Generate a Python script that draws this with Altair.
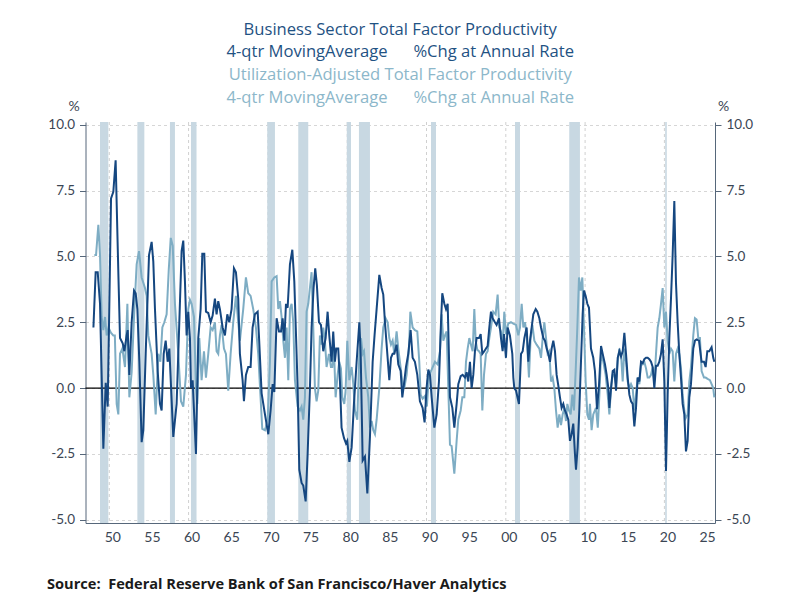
import pandas as pd
import altair as alt

# Business Sector TFP, 4-qtr moving average, %chg at annual rate
tfp_year = [1948.0, 1948.28, 1948.54, 1948.83, 1949.25, 1949.55, 1949.8, 1950.22, 1950.51, 1950.8,
            1951.14, 1951.35, 1951.69, 1951.9, 1952.19, 1952.32, 1952.53, 1952.82, 1953.12, 1953.33,
            1953.54, 1953.79, 1954.08, 1954.29, 1954.59, 1955.01, 1955.34, 1955.55, 1955.76, 1956.1,
            1956.39, 1956.6, 1956.86, 1957.11, 1957.36, 1957.57, 1958.07, 1958.49, 1958.83, 1959.12,
            1959.33, 1959.54, 1959.75, 1959.96, 1960.17, 1960.3, 1960.51, 1960.68, 1960.93, 1961.22,
            1961.52, 1961.73, 1961.98, 1962.19, 1962.48, 1962.78, 1963.03, 1963.32, 1963.53, 1963.74,
            1963.95, 1964.29, 1964.58, 1964.88, 1965.13, 1965.42, 1965.72, 1965.97, 1966.26, 1966.47,
            1966.81, 1966.98, 1967.23, 1967.52, 1967.82, 1968.07, 1968.36, 1968.71, 1968.87, 1969.21,
            1969.63, 1970.05, 1970.34, 1970.6, 1970.81, 1971.1, 1971.4, 1971.65, 1971.86, 1972.07,
            1972.28, 1972.49, 1972.78, 1973.08, 1973.33, 1973.62, 1973.75, 1973.96, 1974.25, 1974.46,
            1974.76, 1975.01, 1975.3, 1975.51, 1975.76, 1975.97, 1976.18, 1976.44, 1976.69, 1976.98,
            1977.28, 1977.53, 1977.74, 1978.03, 1978.24, 1978.45, 1978.62, 1978.87, 1979.08, 1979.29,
            1979.6, 1979.85, 1980.01, 1980.27, 1980.56, 1980.85, 1981.19, 1981.53, 1981.7, 1981.95,
            1982.24, 1982.54, 1982.87, 1983.21, 1983.46, 1983.71, 1984.05, 1984.34, 1984.55, 1984.76,
            1985.06, 1985.31, 1985.52, 1985.73, 1985.94, 1986.23, 1986.44, 1986.74, 1986.95, 1987.16,
            1987.41, 1987.7, 1988.0, 1988.25, 1988.54, 1988.84, 1989.17, 1989.51, 1989.76, 1990.01,
            1990.23, 1990.44, 1990.65, 1990.99, 1991.28, 1991.57, 1991.83, 1991.99, 1992.25, 1992.46,
            1992.67, 1992.96, 1993.26, 1993.51, 1993.8, 1994.01, 1994.31, 1994.56, 1994.85, 1995.06,
            1995.27, 1995.48, 1995.69, 1995.9, 1996.11, 1996.32, 1996.62, 1996.83, 1997.04, 1997.29,
            1997.5, 1997.71, 1997.92, 1998.13, 1998.34, 1998.63, 1998.84, 1999.14, 1999.39, 1999.6,
            1999.77, 2000.02, 2000.23, 2000.52, 2000.82, 2000.95, 2001.07, 2001.29, 2001.66, 2001.92,
            2002.13, 2002.34, 2002.63, 2002.84, 2003.05, 2003.26, 2003.47, 2003.77, 2003.98, 2004.23,
            2004.44, 2004.73, 2004.94, 2005.15, 2005.36, 2005.57, 2005.78, 2005.99, 2006.2, 2006.41,
            2006.62, 2006.83, 2007.04, 2007.25, 2007.46, 2007.67, 2007.88, 2008.09, 2008.3, 2008.51,
            2008.72, 2008.85, 2009.06, 2009.27, 2009.48, 2009.69, 2009.86, 2010.07, 2010.28, 2010.49,
            2010.74, 2011.03, 2011.24, 2011.5, 2011.75, 2012.01, 2012.22, 2012.51, 2012.72, 2012.93,
            2013.06, 2013.27, 2013.48, 2013.69, 2013.9, 2014.11, 2014.32, 2014.53, 2014.74, 2014.95,
            2015.16, 2015.37, 2015.58, 2015.79, 2016.0, 2016.21, 2016.42, 2016.63, 2016.84, 2017.05,
            2017.26, 2017.47, 2017.68, 2017.89, 2018.1, 2018.31, 2018.52, 2018.73, 2018.94, 2019.15,
            2019.36, 2019.57, 2019.78, 2019.99, 2020.2, 2020.41, 2020.62, 2020.83, 2021.04, 2021.25,
            2021.46, 2021.67, 2021.88, 2022.09, 2022.3, 2022.51, 2022.72, 2022.93, 2023.14, 2023.35,
            2023.64, 2023.85, 2024.06, 2024.36, 2024.69, 2024.99, 2025.2, 2025.41, 2025.66, 2025.95,
            2026.16, 2026.29]
tfp_chg = [2.3, 4.4, 4.4, 3.2, -2.3, 0.2, -0.7, 7.2, 7.45, 8.65,
           4.4, 1.9, 1.7, 1.4, 2.0, 2.2, 0.5, 2.5, 3.7, 3.6,
           3.0, 1.0, -2.05, -1.6, 1.3, 5.05, 5.55, 4.8, 3.0, 0.65,
           -0.6, -0.85, 1.3, 1.8, 1.0, 1.5, -1.85, -0.6, 2.5, 5.2,
           5.6, 4.05, 2.0, 2.9, 1.9, 0.0, 0.3, -0.85, -2.5, 1.9,
           3.0, 5.1, 5.1, 2.9, 2.85, 2.5, 2.75, 3.4, 2.8, 3.3,
           3.0, 2.3, 2.0, 2.8, 2.5, 3.0, 4.55, 4.4, 3.4, 1.3,
           0.3, -0.5, 0.5, 0.8, 0.8, 2.3, 2.8, 2.9, 2.0, -0.2,
           -1.0, -1.75, -0.85, 0.15, -0.15, 2.65, 2.15, 2.15, 2.65, 1.8,
           3.2, 3.05, 4.7, 5.25, 4.05, 1.3, 0.0, -3.1, -3.6, -3.7,
           -4.3, -2.5, 0.0, 2.3, 3.8, 4.55, 3.9, 2.5, 2.4, 1.4,
           1.9, 2.9, 2.0, 1.0, 2.15, 1.0, 1.5, 1.5, 0.3, -1.5,
           -1.9, -2.1, -2.0, -2.8, -2.25, -0.6, 1.0, 2.5, 1.3, -2.75,
           -2.6, -4.0, -1.85, 1.0, 2.05, 3.0, 4.3, 3.8, 3.55, 2.5,
           1.3, 0.3, 1.15, 1.3, 1.3, 1.65, 0.9, 0.65, -0.35, 0.15,
           0.8, 1.3, 2.2, 1.15, 1.0, 0.5, -0.5, -0.75, -1.3, 0.0,
           0.7, 0.5, -0.35, -1.5, -1.0, 0.25, 2.5, 3.6, 3.2, 3.0,
           3.2, -0.35, -0.75, -1.5, -0.6, 0.15, 0.45, 0.5, 0.4, 0.6,
           0.25, 1.0, 0.0, 0.5, 1.4, 1.9, 1.9, 2.05, 1.3, 1.4,
           1.5, 1.6, 2.3, 2.9, 2.65, 2.5, 2.4, 2.65, 1.9, 1.4,
           2.05, 1.15, 2.3, 2.0, 1.3, 0.4, 0.0, -0.1, -0.6, 1.3,
           1.4, 1.9, 2.3, 1.0, 1.8, 2.3, 2.8, 3.0, 2.9, 2.65,
           2.3, 1.9, 1.8, 1.5, 1.3, 1.0, 1.5, 1.8, 1.4, 0.5,
           0.1, -0.35, -0.75, -0.6, -0.85, -1.0, -1.2, -2.0, -1.75, -1.35,
           -2.5, -3.1, -2.25, -0.85, 1.0, 2.8, 3.7, 3.5, 3.2, 3.05,
           1.5, 1.15, 0.65, -0.8, 0.1, 1.6, 1.3, 0.9, 0.5, 0.0,
           -0.75, 0.0, 0.65, 0.7, -0.1, 1.15, 1.4, 1.2, 1.4, 2.1,
           1.3, 0.4, -0.25, -0.5, -0.6, -1.45, -0.75, 0.4, 0.25, 1.0,
           0.95, 1.1, 1.15, 1.15, 1.1, 1.0, 0.8, 0.0, 0.85, 0.85,
           1.0, 1.3, 1.85, 0.25, -3.15, -0.25, 1.9, 3.4, 5.05, 7.1,
           4.0, 2.5, 1.3, 0.4, -0.6, -1.0, -2.4, -2.0, -0.35, 0.15,
           1.5, 1.8, 1.85, 1.8, 1.0, 1.0, 0.8, 1.4, 1.4, 1.55,
           1.15, 1.0]

# Utilization-Adjusted TFP, 4-qtr moving average, %chg at annual rate
util_year = [1948.12, 1948.33, 1948.62, 1948.83, 1949.04, 1949.25, 1949.46, 1949.67, 1949.9, 1950.2,
             1950.5, 1950.7, 1950.93, 1951.14, 1951.35, 1951.65, 1951.98, 1952.28, 1952.53, 1952.82,
             1953.12, 1953.45, 1953.75, 1954.08, 1954.5, 1954.71, 1954.92, 1955.34, 1955.55, 1955.85,
             1956.18, 1956.44, 1956.69, 1956.94, 1957.23, 1957.5, 1957.75, 1958.0, 1958.28, 1958.7,
             1959.04, 1959.33, 1959.67, 1959.96, 1960.17, 1960.38, 1960.68, 1960.93, 1961.1, 1961.35,
             1961.64, 1961.94, 1962.19, 1962.48, 1962.78, 1963.03, 1963.32, 1963.53, 1963.74, 1963.95,
             1964.16, 1964.46, 1964.71, 1965.0, 1965.3, 1965.63, 1965.97, 1966.26, 1966.47, 1966.89,
             1967.23, 1967.52, 1967.82, 1968.15, 1968.49, 1968.78, 1969.29, 1969.63, 1969.97, 1970.26,
             1970.47, 1970.81, 1971.1, 1971.31, 1971.52, 1971.73, 1971.94, 1972.15, 1972.36, 1972.57,
             1972.78, 1972.99, 1973.2, 1973.41, 1973.75, 1974.04, 1974.25, 1974.46, 1974.67, 1974.88,
             1975.09, 1975.3, 1975.51, 1975.72, 1975.93, 1976.14, 1976.35, 1976.56, 1976.77, 1976.98,
             1977.19, 1977.4, 1977.7, 1977.95, 1978.12, 1978.33, 1978.54, 1978.79, 1979.0, 1979.21,
             1979.38, 1979.63, 1979.8, 1980.01, 1980.27, 1980.56, 1980.77, 1980.98, 1981.27, 1981.53,
             1981.74, 1981.95, 1982.12, 1982.37, 1982.66, 1982.87, 1983.08, 1983.29, 1983.5, 1983.71,
             1984.05, 1984.34, 1984.55, 1984.85, 1985.1, 1985.31, 1985.52, 1985.73, 1985.94, 1986.23,
             1986.44, 1986.65, 1986.95, 1987.2, 1987.49, 1987.79, 1987.96, 1988.25, 1988.54, 1988.84,
             1989.09, 1989.26, 1989.51, 1989.8, 1990.05, 1990.31, 1990.65, 1991.07, 1991.41, 1991.7,
             1991.91, 1992.12, 1992.33, 1992.54, 1992.75, 1992.96, 1993.17, 1993.51, 1993.8, 1994.01,
             1994.31, 1994.52, 1994.77, 1994.98, 1995.19, 1995.4, 1995.61, 1995.82, 1996.03, 1996.2,
             1996.41, 1996.62, 1996.83, 1997.04, 1997.25, 1997.5, 1997.71, 1997.92, 1998.13, 1998.42,
             1998.72, 1998.97, 1999.18, 1999.39, 1999.6, 1999.81, 2000.02, 2000.31, 2000.65, 2000.94,
             2001.29, 2001.58, 2001.79, 2002.0, 2002.21, 2002.42, 2002.63, 2002.92, 2003.13, 2003.35,
             2003.6, 2003.89, 2004.23, 2004.44, 2004.65, 2004.86, 2005.07, 2005.28, 2005.49, 2005.7,
             2005.91, 2006.12, 2006.33, 2006.54, 2006.75, 2006.96, 2007.17, 2007.38, 2007.59, 2007.76,
             2007.97, 2008.18, 2008.39, 2008.6, 2008.81, 2009.02, 2009.23, 2009.44, 2009.65, 2009.86,
             2010.07, 2010.28, 2010.49, 2010.61, 2010.82, 2011.03, 2011.37, 2011.6, 2011.8, 2012.01,
             2012.3, 2012.59, 2012.85, 2013.06, 2013.27, 2013.48, 2013.69, 2013.9, 2014.11, 2014.32,
             2014.53, 2014.74, 2014.95, 2015.16, 2015.37, 2015.58, 2015.79, 2016.0, 2016.21, 2016.42,
             2016.63, 2016.84, 2017.05, 2017.26, 2017.47, 2017.68, 2017.89, 2018.1, 2018.31, 2018.52,
             2018.73, 2018.94, 2019.15, 2019.36, 2019.57, 2019.78, 2019.99, 2020.2, 2020.41, 2020.62,
             2020.83, 2021.04, 2021.25, 2021.46, 2021.67, 2021.88, 2022.09, 2022.3, 2022.51, 2022.67,
             2022.93, 2023.14, 2023.35, 2023.64, 2023.85, 2024.06, 2024.27, 2024.48, 2024.69, 2024.99,
             2025.2, 2025.45, 2025.74, 2025.95, 2026.16, 2026.29]
util_chg = [5.05, 5.05, 6.2, 5.05, 2.7, 2.2, 2.7, 2.0, 2.3, 2.1,
            2.0, 2.0, -0.6, -1.0, 1.3, 1.5, 0.8, 3.2, -0.35, 0.6,
            2.7, 4.7, 5.2, 4.2, 3.8, 3.5, 2.0, 1.3, 0.5, -1.0,
            1.3, 1.0, 2.3, 2.5, 2.8, 4.5, 5.7, 5.4, 3.2, 1.3,
            -0.5, -0.7, 0.5, 3.0, 3.35, 3.2, 2.7, 0.0, -0.6, 1.9,
            0.3, 1.4, 0.4, 1.3, 2.3, 2.2, 2.5, 1.4, 1.3, 2.0,
            2.4, 1.5, 1.3, -0.1, 1.3, 2.5, 3.5, 2.5, 1.8, 3.0,
            4.2, 3.6, 3.5, 3.0, 2.3, 1.3, -1.55, -1.6, -1.2, 1.0,
            4.05, 4.2, 4.25, 3.0, 3.3, 2.7, 1.8, 1.15, 2.3, 0.3,
            3.0, 3.2, 2.5, 0.3, -0.7, -0.85, -0.7, -1.2, -0.35, 2.9,
            3.2, 3.8, 4.4, 2.3, 0.0, -0.5, -0.1, 2.0, 1.65, 2.3,
            1.8, 0.8, 1.3, 0.8, 0.8, 1.5, -0.35, 0.5, 1.0, 0.75,
            -0.35, -0.6, -0.1, 1.8, 0.3, 0.8, 0.15, -0.85, -1.2, 1.3,
            1.9, 1.3, 1.4, 0.4, -0.35, -1.5, -1.25, -1.6, -1.75, -1.2,
            0.0, 1.5, 2.3, 2.65, 2.5, 1.9, 1.65, 1.8, 1.3, 2.15,
            1.5, 1.0, 0.25, 0.0, 0.5, 1.5, 2.9, 2.3, 2.2, 2.15,
            1.0, -0.25, -0.4, -0.3, -0.7, 0.5, 0.7, 1.0, 0.9, 1.4,
            2.8, 1.8, 2.0, 2.15, 0.0, -2.15, -2.2, -3.25, -2.0, -1.2,
            -0.85, -0.35, -0.35, 1.0, 1.5, 1.9, 1.65, 1.4, 3.0, 1.8,
            1.45, 1.4, 1.3, -0.85, 0.5, 1.3, 1.4, 1.9, 2.3, 2.9,
            2.8, 3.55, 2.3, 2.15, 1.65, 2.9, 2.05, 2.45, 2.5, 2.45,
            2.4, 2.0, 2.3, 3.2, 2.3, 2.5, 2.0, 0.4, 1.9, 2.4,
            1.8, 1.65, 1.5, 1.15, 1.9, 2.5, 1.9, 1.3, 1.4, 0.25,
            0.4, 0.0, -0.85, -1.5, -1.0, -1.4, -1.0, -0.75, -1.25, -0.6,
            -0.85, -1.0, -0.25, -0.85, 0.65, 2.3, 4.2, 3.7, 4.2, 2.3,
            0.25, -1.0, -1.2, -0.6, -1.6, -1.0, -0.75, -1.5, -0.25, 1.3,
            1.0, 0.5, -0.25, -1.0, 0.0, 0.5, 0.5, 0.15, 1.0, 1.5,
            1.3, 0.25, 1.5, 1.0, 0.25, 0.0, 0.15, 0.0, -0.85, -0.25,
            0.4, 0.15, 0.9, 0.9, 1.0, 0.75, 0.4, 0.4, 0.5, 0.8,
            0.25, 1.3, 2.3, 2.65, 3.2, 3.8, 2.3, 2.9, 1.8, 1.3,
            1.5, 1.4, 0.25, 1.3, 1.5, 1.3, 0.75, -0.25, -0.85, -1.15,
            -1.0, 0.25, 0.8, 2.0, 2.65, 2.6, 1.9, 1.9, 0.65, 0.4,
            0.4, 0.35, 0.3, 0.15, 0.0, -0.35]

# recession shading (start / end, fractional years)
rec_start = [1948.83, 1953.54, 1957.65, 1960.3, 1969.92, 1973.83, 1979.95, 1981.48, 1990.57, 2001.16, 2008.0, 2020.1]
rec_end = [1949.88, 1954.42, 1958.28, 1961.0, 1970.89, 1975.09, 1980.48, 1982.87, 1991.2, 2001.79, 2009.35, 2020.3]

decades = [1950, 1960, 1970, 1980, 1990, 2000, 2010, 2020]
x_ticks = [1950, 1955, 1960, 1965, 1970, 1975, 1980, 1985, 1990, 1995, 2000, 2005, 2010, 2015, 2020, 2025]
y_ticks = [-5, -2.5, 0, 2.5, 5, 7.5, 10]

title_1 = 'Business Sector Total Factor Productivity'
title_2 = '4-qtr MovingAverage\u00a0\u00a0\u00a0\u00a0\u00a0 %Chg at Annual Rate'
title_3 = 'Utilization-Adjusted Total Factor Productivity'
title_4 = '4-qtr MovingAverage\u00a0\u00a0\u00a0\u00a0\u00a0 %Chg at Annual Rate'
source = 'Source:\u00a0 Federal Reserve Bank of San Francisco/Haver Analytics'

#%% ##########
W, H = 629.5, 401
FONT = 'Lato'
TFONT = 'Open Sans'
dark_col = '#154780'
light_col = '#7eadc4'
axis_col = '#56677a'

tfp_df = pd.DataFrame({'year': tfp_year, 'chg': tfp_chg})
util_df = pd.DataFrame({'year': util_year, 'chg': util_chg})
rec_df = pd.DataFrame({'start': rec_start, 'end': rec_end})
dec_df = pd.DataFrame({'year': decades})

xscale = alt.Scale(domain=[1947.0, 2026.38], nice=False, zero=False)
yscale = alt.Scale(domain=[-5.12, 10.1], nice=False, zero=False)

xaxis = alt.Axis(title=None, values=x_ticks, labelExpr="substring(toString(datum.value), 2, 4)",
                 grid=False, ticks=False, domainColor=axis_col, labelPadding=7, labelOffset=3,
                 labelFontSize=14)

ylabels = "datum.value < 0 ? '-' + format(-datum.value, '.1f') : format(datum.value, '.1f')"
yaxis_left = alt.Axis(orient='left', values=y_ticks, labelExpr=ylabels, grid=True, gridDash=[3, 3],
                      gridColor='#d6d6d6', tickSize=6, tickColor=axis_col, domainColor=axis_col,
                      labelPadding=5, title='%', titleAngle=0, titleX=-12, titleY=-16,
                      titleAlign='center', titleBaseline='middle')
yaxis_right = alt.Axis(orient='right', values=y_ticks, labelExpr=ylabels, grid=False,
                       tickSize=6, tickColor=axis_col, domainColor=axis_col,
                       labelPadding=5, title='%', titleAngle=0, titleX=8, titleY=-16,
                       titleAlign='center', titleBaseline='middle')

# decade grid lines (dashed) under the recession bars
dec_grid = alt.Chart(dec_df).mark_rule(color='#d0d0d0', strokeDash=[3, 3], strokeWidth=1).encode(
    x=alt.X('year:Q', scale=xscale, axis=xaxis)
)

bands = alt.Chart(rec_df).mark_rect(color='#c8d8e2').encode(
    x=alt.X('start:Q', scale=xscale, axis=xaxis),
    x2='end:Q'
)

zero = alt.Chart(pd.DataFrame({'v': [0]})).mark_rule(color='black', strokeWidth=1.2).encode(
    y=alt.Y('v:Q', scale=yscale, axis=None)
)

util_line = alt.Chart(util_df).mark_line(color=light_col, strokeWidth=2).encode(
    x=alt.X('year:Q', scale=xscale, axis=xaxis),
    y=alt.Y('chg:Q', scale=yscale, axis=yaxis_right)
)

tfp_line = alt.Chart(tfp_df).mark_line(color=dark_col, strokeWidth=2).encode(
    x=alt.X('year:Q', scale=xscale, axis=xaxis),
    y=alt.Y('chg:Q', scale=yscale, axis=yaxis_left)
)

# title lines, two colours
def text_line(txt, ypix, col, size=16.6, weight='normal', xpix=W / 2, align='center'):
    return alt.Chart(pd.DataFrame({'t': [txt]})).mark_text(
        font=TFONT, fontSize=size, color=col, fontWeight=weight, align=align, baseline='middle'
    ).encode(text='t:N', x=alt.value(xpix), y=alt.value(ypix))

t1 = text_line(title_1, -92.5, '#1f5283')
t2 = text_line(title_2, -70.5, '#1f5283')
t3 = text_line(title_3, -47, '#8cb7ca')
t4 = text_line(title_4, -24.5, '#8cb7ca')
src = text_line(source, 462.5, '#1a1a1a', size=14.6, weight='bold', xpix=-38.5, align='left')

chart = alt.layer(dec_grid, bands, zero, util_line, tfp_line, t1, t2, t3, t4, src).resolve_scale(
    y='independent'
).properties(
    width=W, height=H,
    autosize=alt.AutoSizeParams(type='none'),
    padding={'left': 77.5, 'top': 114, 'right': 77, 'bottom': 69}
).configure_view(strokeWidth=0).configure_axis(
    labelFont=FONT, labelFontSize=13.5, labelColor='#3b4654',
    titleFont=FONT, titleFontSize=14, titleFontWeight='normal', titleColor='#3b4654'
)

chart.save('out.html', embed_options={'renderer': 'svg', 'actions': False})
